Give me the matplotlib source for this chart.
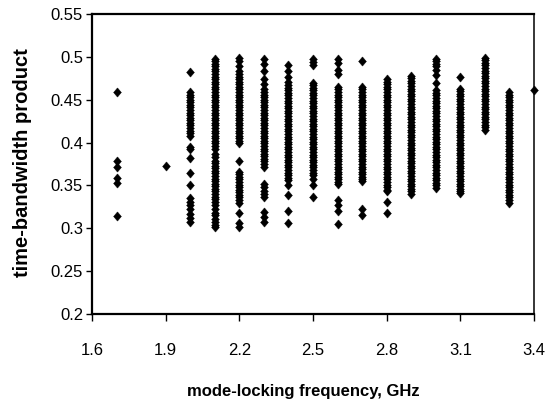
import matplotlib
matplotlib.use("Agg")
import matplotlib.pyplot as plt
import numpy as np

plt.rcParams['font.family'] = ['Liberation Sans', 'DejaVu Sans']

# mode-locking frequency (GHz) of each measured column
freqs = [1.7, 1.9, 2.0, 2.1, 2.2, 2.3, 2.4, 2.5, 2.6, 2.7, 2.8, 2.9, 3.0, 3.1, 3.2, 3.3, 3.4]

# time-bandwidth product values
tbp_17 = [0.459, 0.378, 0.371, 0.359, 0.353, 0.314]
tbp_19 = [0.373]
tbp_20 = [0.482, 0.459, 0.456, 0.453, 0.450, 0.447, 0.444, 0.441, 0.438, 0.435, 0.432,
          0.429, 0.426, 0.423, 0.420, 0.417, 0.414, 0.411, 0.408, 0.395, 0.392, 0.382,
          0.365, 0.351, 0.335, 0.331, 0.327, 0.322, 0.317, 0.312, 0.307]
tbp_21 = [0.498, 0.495, 0.492, 0.489, 0.486, 0.483, 0.480, 0.477, 0.474, 0.471, 0.468,
          0.465, 0.462, 0.459, 0.456, 0.453, 0.450, 0.447, 0.444, 0.441, 0.438, 0.435,
          0.432, 0.429, 0.426, 0.423, 0.420, 0.417, 0.414, 0.411, 0.408, 0.405, 0.402,
          0.399, 0.396, 0.392, 0.387, 0.383, 0.379, 0.376, 0.373, 0.370, 0.367, 0.364,
          0.361, 0.358, 0.355, 0.352, 0.349, 0.346, 0.343, 0.340, 0.337, 0.334, 0.331,
          0.327, 0.322, 0.318, 0.315, 0.311, 0.307, 0.304, 0.302]
tbp_22 = [0.499, 0.495, 0.489, 0.484, 0.480, 0.477, 0.474, 0.471, 0.468, 0.465, 0.462,
          0.459, 0.456, 0.453, 0.450, 0.447, 0.444, 0.441, 0.438, 0.435, 0.432, 0.429,
          0.426, 0.423, 0.420, 0.417, 0.414, 0.411, 0.408, 0.405, 0.402, 0.399, 0.379,
          0.366, 0.363, 0.360, 0.357, 0.354, 0.351, 0.348, 0.345, 0.342, 0.339, 0.336,
          0.333, 0.330, 0.318, 0.306, 0.301]
tbp_23 = [0.497, 0.492, 0.483, 0.474, 0.468, 0.462, 0.459, 0.456, 0.453, 0.450, 0.447,
          0.444, 0.441, 0.438, 0.435, 0.432, 0.429, 0.426, 0.423, 0.420, 0.417, 0.414,
          0.411, 0.408, 0.405, 0.402, 0.399, 0.396, 0.393, 0.390, 0.387, 0.384, 0.381,
          0.378, 0.375, 0.372, 0.352, 0.348, 0.344, 0.340, 0.336, 0.319, 0.313, 0.307]
tbp_24 = [0.490, 0.484, 0.477, 0.471, 0.467, 0.464, 0.461, 0.458, 0.455, 0.452, 0.449,
          0.446, 0.443, 0.440, 0.437, 0.434, 0.431, 0.428, 0.425, 0.422, 0.419, 0.416,
          0.413, 0.410, 0.407, 0.404, 0.401, 0.398, 0.395, 0.392, 0.389, 0.386, 0.383,
          0.380, 0.377, 0.374, 0.371, 0.368, 0.365, 0.362, 0.359, 0.356, 0.351, 0.339,
          0.320, 0.306]
tbp_25 = [0.498, 0.494, 0.491, 0.470, 0.467, 0.464, 0.461, 0.458, 0.455, 0.452, 0.449,
          0.446, 0.443, 0.440, 0.437, 0.434, 0.431, 0.428, 0.425, 0.422, 0.419, 0.416,
          0.413, 0.410, 0.407, 0.404, 0.401, 0.398, 0.395, 0.392, 0.389, 0.386, 0.383,
          0.380, 0.377, 0.374, 0.371, 0.368, 0.365, 0.362, 0.358, 0.351, 0.337]
tbp_26 = [0.497, 0.493, 0.485, 0.480, 0.465, 0.462, 0.459, 0.456, 0.453, 0.450, 0.447,
          0.444, 0.441, 0.438, 0.435, 0.432, 0.429, 0.426, 0.423, 0.420, 0.417, 0.414,
          0.411, 0.408, 0.405, 0.402, 0.399, 0.396, 0.393, 0.390, 0.387, 0.384, 0.381,
          0.378, 0.375, 0.372, 0.369, 0.366, 0.363, 0.360, 0.357, 0.354, 0.352, 0.333,
          0.327, 0.320, 0.305]
tbp_27 = [0.495, 0.465, 0.462, 0.459, 0.456, 0.453, 0.450, 0.447, 0.444, 0.441, 0.438,
          0.435, 0.432, 0.429, 0.426, 0.423, 0.420, 0.417, 0.414, 0.411, 0.408, 0.405,
          0.402, 0.399, 0.396, 0.393, 0.390, 0.387, 0.384, 0.381, 0.378, 0.375, 0.372,
          0.369, 0.366, 0.363, 0.360, 0.357, 0.355, 0.322, 0.315]
tbp_28 = [0.474, 0.471, 0.468, 0.465, 0.462, 0.459, 0.456, 0.453, 0.450, 0.447, 0.444,
          0.441, 0.438, 0.435, 0.432, 0.429, 0.426, 0.423, 0.420, 0.417, 0.414, 0.411,
          0.408, 0.405, 0.402, 0.399, 0.396, 0.393, 0.390, 0.387, 0.384, 0.381, 0.378,
          0.375, 0.372, 0.369, 0.366, 0.363, 0.360, 0.357, 0.354, 0.351, 0.348, 0.345,
          0.343, 0.331, 0.318]
tbp_29 = [0.478, 0.475, 0.472, 0.469, 0.466, 0.463, 0.460, 0.457, 0.454, 0.451, 0.448,
          0.445, 0.442, 0.439, 0.436, 0.433, 0.430, 0.427, 0.424, 0.421, 0.418, 0.415,
          0.412, 0.409, 0.406, 0.403, 0.400, 0.397, 0.394, 0.391, 0.388, 0.385, 0.382,
          0.379, 0.376, 0.373, 0.370, 0.367, 0.364, 0.361, 0.358, 0.355, 0.352, 0.349,
          0.346, 0.343, 0.340]
tbp_30 = [0.498, 0.495, 0.492, 0.489, 0.485, 0.479, 0.470, 0.461, 0.458, 0.455, 0.452,
          0.449, 0.446, 0.443, 0.440, 0.437, 0.434, 0.431, 0.428, 0.425, 0.422, 0.419,
          0.416, 0.413, 0.410, 0.407, 0.404, 0.401, 0.398, 0.395, 0.392, 0.389, 0.386,
          0.383, 0.380, 0.377, 0.374, 0.371, 0.368, 0.365, 0.362, 0.359, 0.356, 0.353,
          0.350, 0.347]
tbp_31 = [0.476, 0.463, 0.460, 0.457, 0.454, 0.451, 0.448, 0.445, 0.442, 0.439, 0.436,
          0.433, 0.430, 0.427, 0.424, 0.421, 0.418, 0.415, 0.412, 0.409, 0.406, 0.403,
          0.400, 0.397, 0.394, 0.391, 0.388, 0.385, 0.382, 0.379, 0.376, 0.373, 0.370,
          0.367, 0.364, 0.361, 0.358, 0.355, 0.352, 0.349, 0.346, 0.343, 0.341]
tbp_32 = [0.499, 0.496, 0.493, 0.490, 0.487, 0.484, 0.481, 0.478, 0.475, 0.472, 0.469,
          0.466, 0.463, 0.460, 0.457, 0.454, 0.451, 0.448, 0.445, 0.442, 0.439, 0.436,
          0.433, 0.430, 0.427, 0.424, 0.421, 0.418, 0.415]
tbp_33 = [0.459, 0.456, 0.453, 0.450, 0.447, 0.444, 0.441, 0.438, 0.435, 0.432, 0.429,
          0.426, 0.423, 0.420, 0.417, 0.414, 0.411, 0.408, 0.405, 0.402, 0.399, 0.396,
          0.393, 0.390, 0.387, 0.384, 0.381, 0.378, 0.375, 0.372, 0.369, 0.366, 0.363,
          0.360, 0.357, 0.354, 0.351, 0.348, 0.345, 0.342, 0.339, 0.336, 0.333, 0.330]
tbp_34 = [0.461]

columns = [tbp_17, tbp_19, tbp_20, tbp_21, tbp_22, tbp_23, tbp_24, tbp_25, tbp_26,
           tbp_27, tbp_28, tbp_29, tbp_30, tbp_31, tbp_32, tbp_33, tbp_34]

x_ticks = [1.6, 1.9, 2.2, 2.5, 2.8, 3.1, 3.4]
x_labels = ['1.6', '1.9', '2.2', '2.5', '2.8', '3.1', '3.4']
y_ticks = [0.2, 0.25, 0.3, 0.35, 0.4, 0.45, 0.5, 0.55]
y_labels = ['0.2', '0.25', '0.3', '0.35', '0.4', '0.45', '0.5', '0.55']

# Excel-style diamond, a little taller than wide
diamond = [(0, 1), (0.85, 0), (0, -1), (-0.85, 0), (0, 1)]

fig = plt.figure(figsize=(5.48, 4.08), dpi=100)
ax = fig.add_axes([0.168, 0.2304, 0.8065, 0.7353])

for f, ys in zip(freqs, columns):
    ax.plot(np.full(len(ys), f), ys, linestyle='none', marker=diamond, ms=6.6,
            color='black', mec='black', mew=0.3, clip_on=False, zorder=3)

ax.set_xlim(1.6, 3.4)
ax.set_ylim(0.2, 0.55)
ax.set_xticks(x_ticks)
ax.set_xticklabels(x_labels)
ax.set_yticks(y_ticks)
ax.set_yticklabels(y_labels)
ax.tick_params(axis='x', direction='out', length=5, width=1, pad=16, labelsize=12)
ax.tick_params(axis='y', direction='out', length=4.5, width=1, pad=2, labelsize=12)

for side in ['left', 'bottom', 'top']:
    ax.spines[side].set_linewidth(1.6)
ax.spines['right'].set_linewidth(1.1)
for side in ax.spines:
    ax.spines[side].set_zorder(5)

ax.set_xlabel('mode-locking frequency, GHz', fontsize=12, fontweight='bold')
ax.xaxis.set_label_coords(0.477, -0.26)
ax.xaxis.label.set_va('center')
ax.set_ylabel('time-bandwidth product', fontsize=14.5, fontweight='bold')
ax.yaxis.set_label_coords(-0.158, 0.503)
ax.yaxis.label.set_va('center')

fig.savefig('out.png', dpi=100)
